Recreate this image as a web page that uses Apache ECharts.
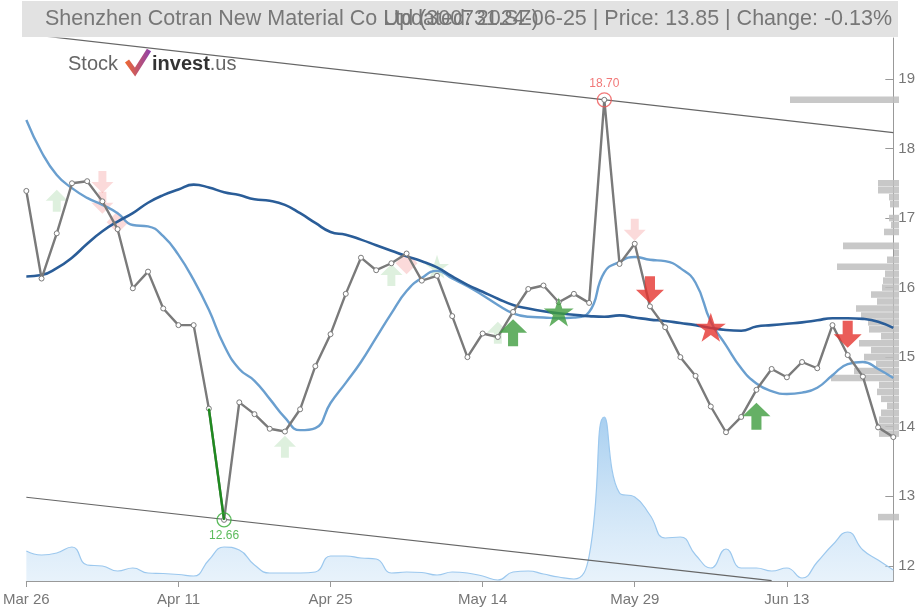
<!DOCTYPE html>
<html><head><meta charset="utf-8">
<script src="https://cdn.jsdelivr.net/npm/echarts@6/dist/echarts.min.js"></script>
<style>html,body{margin:0;padding:0;background:#fff}#c{width:918px;height:610px}</style>
</head><body><div id="c"></div>
<script>
// ---------- data ----------
const dates = ['Mar 26','Mar 27','Mar 28','Mar 29','Apr 1','Apr 2','Apr 3','Apr 8','Apr 9','Apr 10',
  'Apr 11','Apr 12','Apr 15','Apr 16','Apr 17','Apr 18','Apr 19','Apr 22','Apr 23','Apr 24',
  'Apr 25','Apr 26','Apr 29','Apr 30','May 6','May 7','May 8','May 9','May 10','May 13',
  'May 14','May 15','May 16','May 17','May 20','May 21','May 22','May 23','May 24','May 28',
  'May 29','May 30','May 31','Jun 3','Jun 4','Jun 5','Jun 6','Jun 7','Jun 11','Jun 12',
  'Jun 13','Jun 14','Jun 17','Jun 18','Jun 19','Jun 20','Jun 21','Jun 24'];
const prices = [17.39,16.13,16.78,17.50,17.53,17.24,16.84,15.99,16.23,15.70,
  15.46,15.46,14.26,12.66,14.35,14.18,13.97,13.93,14.25,14.87,
  15.33,15.91,16.43,16.25,16.35,16.49,16.10,16.17,15.59,15.00,
  15.34,15.29,15.65,15.98,16.03,15.79,15.91,15.78,18.70,16.34,
  16.63,15.73,15.43,15.00,14.73,14.29,13.92,14.14,14.53,14.83,
  14.71,14.93,14.84,15.46,15.03,14.72,13.99,13.85];
const maShort = [18.41,17.95,17.62,17.43,17.29,17.19,17.07,16.90,16.88,16.74,
  16.47,16.11,15.68,15.17,14.83,14.66,14.40,14.13,13.95,13.98,
  14.34,14.63,14.93,15.28,15.63,15.95,16.14,16.24,16.13,16.02,
  15.89,15.75,15.63,15.58,15.57,15.56,15.57,15.65,16.22,16.37,
  16.44,16.40,16.38,16.28,16.07,15.51,15.17,14.84,14.62,14.51,
  14.47,14.49,14.56,14.74,14.90,14.93,14.83,14.70];
const maLong = [16.16,16.18,16.28,16.43,16.63,16.81,16.95,17.07,17.22,17.33,
  17.41,17.48,17.44,17.37,17.33,17.27,17.25,17.19,17.07,16.93,
  16.80,16.76,16.69,16.61,16.53,16.45,16.38,16.29,16.16,16.04,
  15.94,15.84,15.75,15.70,15.66,15.63,15.61,15.59,15.58,15.60,
  15.57,15.54,15.52,15.49,15.46,15.42,15.39,15.38,15.44,15.46,
  15.48,15.50,15.53,15.56,15.56,15.55,15.51,15.42];
const volume = [30,26,28,34,16,15,10,13,8,7.5,
  6.5,5,21,34,31,16,8,8,8,9,
  25,25,23,22,8,9,8.5,6,9,8,
  5,1,9,10,7,4,2,25,164,88,
  84,66,43,44,26,13,32,13,13,10,
  13,3,19,36,49,31,21,11];
const profilePrice = [18.7,17.5,17.4,17.3,17.2,17.0,16.9,16.8,16.6,16.5,16.4,16.3,16.2,16.1,16.0,
  15.9,15.8,15.7,15.6,15.5,15.4,15.3,15.2,15.1,15.0,14.9,14.8,14.7,14.6,14.5,14.4,14.3,14.2,14.1,14.0,13.9,12.7];
const profileVol = [109,21,21,10,9,10,8,15,56,5,12,62,14,16,17,
  28,22,43,38,31,30,18,40,28,35,23,45,68,20,22,18,12,18,20,22,20,21];
const yTicks = [12,13,14,15,16,17,18,19];
const upperTrend = [[0,19.646],[57,18.227]];
const lowerTrend = [[0,12.985],[49,11.786]];
const highIdx = 38, lowIdx = 13;
// signals: index, price level, kind, faded
const sigIdx   = [2,5,5,6,17,24,25,27,31,40, 32,35,41,45,48,54];
const sigVal   = [17.25,17.52,17.22,16.94,13.71,16.18,16.35,16.30,15.35,16.83, 15.35,15.65,15.97,15.43,14.15,15.33];
const sigKind  = ['buy','sell','sell','selldia','buy','buy','selldia','buystar','buy','sell', 'buy','buystar','sell','sellstar','buy','sell'];
const sigFaded = [1,1,1,1,1,1,1,1,1,1, 0,0,0,0,0,0];

// ---------- build ----------
const UP = 'path://M50,0 L100,50 L68,50 L68,100 L32,100 L32,50 L0,50 Z';
const DOWN = 'path://M32,0 L68,0 L68,50 L100,50 L50,100 L0,50 L32,50 Z';
const STAR = 'path://M50,0 L61.8,35.4 L99.9,35.4 L69.1,57.3 L80.9,92.7 L50,70.8 L19.1,92.7 L30.9,57.3 L0,35.4 L38.2,35.4 Z';
function sigItem(i, faded) {
  const k = sigKind[i];
  const green = k.startsWith('buy');
  const col = faded ? (green ? 'rgba(70,170,70,0.22)' : 'rgba(235,70,70,0.25)') : (green ? '#3f9c3f' : '#e5352f');
  let sym = UP, size = faded ? [22,22] : [28,27];
  if (k === 'sell') sym = DOWN;
  if (k.endsWith('star')) { sym = STAR; size = faded ? [24,24] : [30,29]; }
  if (k === 'selldia') { sym = 'diamond'; size = [22,22]; }
  return { value: [sigIdx[i], sigVal[i]], symbol: sym, symbolSize: size, itemStyle: { color: col } };
}
const fadedData = [], solidData = [];
sigIdx.forEach((_, i) => (sigFaded[i] ? fadedData : solidData).push(sigItem(i, !!sigFaded[i])));

const font = "'Liberation Sans', Arial, sans-serif";
const chart = echarts.init(document.getElementById('c'), null, { renderer: 'canvas' });
const gridPos = { left: 23, right: 19, top: 38, bottom: 29 };
chart.setOption({
  animation: false,
  backgroundColor: '#fff',
  grid: [Object.assign({}, gridPos), Object.assign({}, gridPos)],
  xAxis: [{
    type: 'category', data: dates, boundaryGap: false, gridIndex: 0,
    axisLine: { lineStyle: { color: '#999', width: 1 } },
    axisTick: { interval: 9, length: 6, lineStyle: { color: '#999' } },
    axisLabel: { interval: 9, color: '#777', fontSize: 15, fontFamily: font, margin: 11 },
    splitLine: { show: false }
  }, {
    type: 'value', gridIndex: 1, min: 0, max: 876, inverse: true, show: false
  }],
  yAxis: [{
    type: 'value', position: 'right', min: 11.781, max: 19.589, gridIndex: 0,
    axisLine: { show: true, lineStyle: { color: '#999' } },
    axisTick: { show: true, inside: true, length: 8, customValues: yTicks, lineStyle: { color: '#999' } },
    axisLabel: { customValues: yTicks, color: '#777', fontSize: 15, fontFamily: font, margin: 5 },
    splitLine: { show: false }
  }, {
    type: 'value', gridIndex: 0, min: 0, max: 543, show: false
  }, {
    type: 'value', gridIndex: 1, min: 11.781, max: 19.589, show: false
  }],
  graphic: [
    { type: 'rect', left: 22, top: 1, shape: { width: 876, height: 36 }, style: { fill: '#e2e2e2' }, z: 100 },
    { type: 'text', left: 45, top: 8, style: { text: 'Shenzhen Cotran New Material Co Ltd (300731.SZ)', fill: '#777', font: '21.5px ' + font }, z: 101 },
    { type: 'text', right: 26, top: 8, style: { text: 'Updated: 2024-06-25 | Price: 13.85 | Change: -0.13%', fill: '#777', font: '21.5px ' + font }, z: 101 },
    { type: 'text', left: 68, top: 54, style: { text: 'Stock', fill: '#666', font: '20px ' + font }, z: 101 },
    { type: 'polyline', shape: { points: [[127,61],[135,72],[149,50]] }, style: { stroke: new echarts.graphic.LinearGradient(0,0,1,0,[{offset:0,color:'#f26a2e'},{offset:1,color:'#8b3fb0'}]), lineWidth: 5, fill: null }, z: 101 },
    { type: 'text', left: 152, top: 54, style: { text: '{b|invest}{c|.us}', rich: { b: { fill: '#333', font: 'bold 20px ' + font }, c: { fill: '#666', font: '20px ' + font } } }, z: 101 }
  ],
  series: [
    { // volume area
      type: 'line', xAxisIndex: 0, yAxisIndex: 1, data: volume, smooth: true, symbol: 'none', z: 1,
      lineStyle: { color: '#9cc8ee', width: 1.2 },
      areaStyle: { color: new echarts.graphic.LinearGradient(0,0,0,1,[{offset:0,color:'rgba(110,175,230,0.85)'},{offset:1,color:'rgba(200,225,246,0.6)'}]) }
    },
    { // volume profile
      type: 'custom', xAxisIndex: 1, yAxisIndex: 2, z: 2,
      data: profilePrice.map((p, i) => [profileVol[i], p]),
      renderItem: function (params, api) {
        const v = api.value(0), p = api.value(1);
        const a = api.coord([v, p + 0.047]);
        const b = api.coord([0, p - 0.047]);
        return { type: 'rect', shape: { x: a[0], y: a[1], width: b[0] - a[0], height: b[1] - a[1] }, style: { fill: 'rgba(190,190,190,0.85)' } };
      }
    },
    { type: 'line', data: upperTrend, symbol: 'none', z: 3, lineStyle: { color: '#666', width: 1.2 } },
    { type: 'line', data: lowerTrend, symbol: 'none', z: 3, lineStyle: { color: '#666', width: 1.2 } },
    { type: 'scatter', data: fadedData, z: 4 },
    { type: 'line', data: maShort, smooth: true, symbol: 'none', z: 5, lineStyle: { color: '#6a9fcf', width: 2.4 } },
    { type: 'line', data: maLong, smooth: true, symbol: 'none', z: 5, lineStyle: { color: '#2a5d98', width: 2.6 } },
    { type: 'line', data: prices, symbol: 'circle', symbolSize: 5, z: 6,
      lineStyle: { color: '#7a7a7a', width: 2.4 },
      itemStyle: { color: '#fff', borderColor: '#7a7a7a', borderWidth: 1 } },
    { type: 'line', data: prices.map((p, i) => (i === lowIdx - 1 || i === lowIdx) ? p : null), symbol: 'none', z: 7,
      lineStyle: { color: '#1f8a1f', width: 2.4 } },
    { type: 'scatter', z: 8, symbol: 'circle', symbolSize: 14,
      data: [
        { value: [highIdx, prices[highIdx]], itemStyle: { color: 'rgba(0,0,0,0)', borderColor: '#e55', borderWidth: 1.3 },
          label: { show: true, position: 'top', distance: 2, formatter: prices[highIdx].toFixed(2), color: '#e55', fontSize: 12, fontFamily: font } },
        { value: [lowIdx, prices[lowIdx]], itemStyle: { color: 'rgba(0,0,0,0)', borderColor: '#3a3', borderWidth: 1.3 },
          label: { show: true, position: 'bottom', distance: 2, formatter: prices[lowIdx].toFixed(2), color: '#3a3', fontSize: 12, fontFamily: font } }
      ] },
    { type: 'scatter', data: solidData, z: 9 }
  ]
});
</script></body></html>
